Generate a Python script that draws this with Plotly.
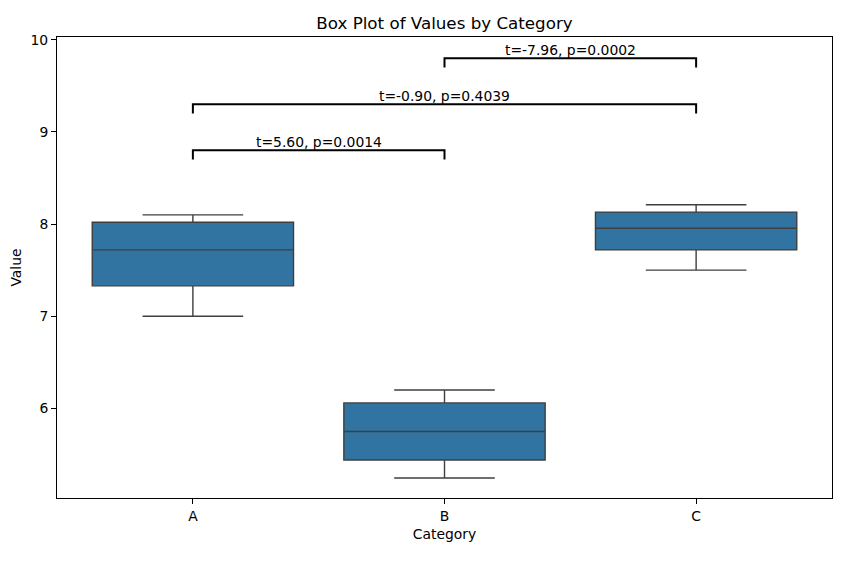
import plotly.graph_objects as go

categories = ["A", "B", "C"]
lower_whisker = [7.00, 5.245, 7.50]
q1_values = [7.33, 5.44, 7.72]
median_values = [7.72, 5.75, 7.955]
q3_values = [8.02, 6.06, 8.13]
upper_whisker = [8.10, 6.20, 8.21]

comparisons = [("A", "B"), ("A", "C"), ("B", "C")]
bracket_heights = [8.8, 9.3, 9.8]
bracket_labels = ["t=5.60, p=0.0014", "t=-0.90, p=0.4039", "t=-7.96, p=0.0002"]

BOX_COLOR = "#3274a1"
LINE_COLOR = "#3f3f3f"
FONT = "DejaVu Sans"
FS = 13.9

# page body has an 8px default margin; size the figure to fill the rest
W, H = 851, 553

fig = go.Figure()
fig.add_trace(go.Box(
    x=categories,
    q1=q1_values,
    median=median_values,
    q3=q3_values,
    lowerfence=lower_whisker,
    upperfence=upper_whisker,
    fillcolor=BOX_COLOR,
    line=dict(color=LINE_COLOR, width=1.4),
    whiskerwidth=0.5,
    width=0.8,
    boxpoints=False,
    showlegend=False,
    hoverinfo="skip",
))

drop = 0.1
for (c1, c2), h, lab in zip(comparisons, bracket_heights, bracket_labels):
    fig.add_trace(go.Scatter(
        x=[c1, c1, c2, c2],
        y=[h - drop, h, h, h - drop],
        mode="lines",
        line=dict(color="black", width=2),
        showlegend=False,
        hoverinfo="skip",
    ))
    mid = (categories.index(c1) + categories.index(c2)) / 2
    fig.add_annotation(
        x=mid, y=h, xref="x", yref="y",
        text=lab, showarrow=False,
        yanchor="bottom", xanchor="center",
        font=dict(family=FONT, size=FS, color="black"),
        borderpad=0, yshift=-1,
    )

fig.update_layout(
    width=W, height=H,
    margin=dict(l=49, r=27, t=29, b=63, autoexpand=False),
    paper_bgcolor="white",
    plot_bgcolor="white",
    boxgap=0.2, boxgroupgap=0,
    font=dict(family=FONT, size=FS, color="black"),
    title=dict(
        text="Box Plot of Values by Category",
        x=0.5, xref="paper", xanchor="center",
        y=1 - 15 / H, yref="container", yanchor="middle",
        font=dict(family=FONT, size=16.7, color="black"),
    ),
    xaxis=dict(
        type="category",
        categoryorder="array", categoryarray=categories,
        range=[-0.54, 2.54],
        automargin=False,
        showgrid=False, zeroline=False,
        showline=True, linecolor="black", linewidth=1, mirror=True,
        ticks="outside", ticklen=5, tickcolor="black",
        tickfont=dict(family=FONT, size=FS),
        title=dict(text="Category", font=dict(family=FONT, size=FS), standoff=6),
    ),
    yaxis=dict(
        range=[5.028, 10.03],
        tickvals=[6, 7, 8, 9, 10],
        automargin=False,
        showgrid=False, zeroline=False,
        showline=True, linecolor="black", linewidth=1, mirror=True,
        ticks="outside", ticklen=5, tickcolor="black",
        tickfont=dict(family=FONT, size=FS),
        title=dict(text="Value", font=dict(family=FONT, size=FS), standoff=8),
    ),
)

fig.write_html("out.html")
